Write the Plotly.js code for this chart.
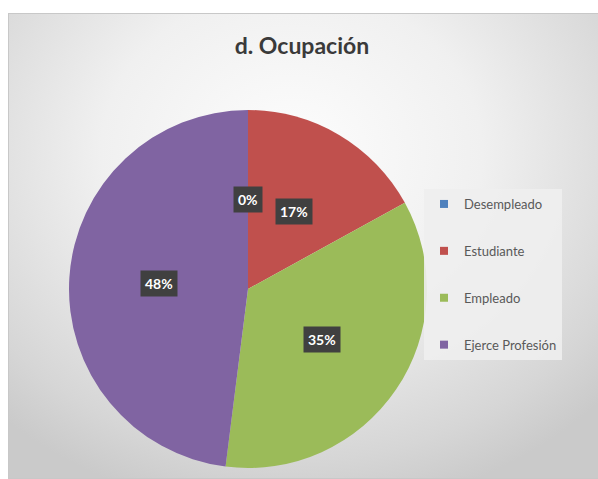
<!DOCTYPE html>
<html>
<head>
<meta charset="utf-8">
<script src="https://cdn.plot.ly/plotly-3.0.1.min.js"></script>
<style>
  html, body { margin: 0; padding: 0; background: #ffffff; }
  #frame {
    position: absolute; left: 8px; top: 13px; width: 589px; height: 464px;
    border: 1px solid #c8c8c8;
    background: radial-gradient(ellipse 72% 78% at 48% 30%, #fdfdfd 0%, #f0f0f0 45%, #d6d6d6 85%, #cacaca 100%);
  }
  #chart { position: absolute; left: 0; top: 0; width: 598px; height: 479px; }
</style>
</head>
<body>
<div id="frame"></div>
<div id="chart"></div>
<script>
const titleText = 'd. Ocupación';
const categories = ['Desempleado', 'Estudiante', 'Empleado', 'Ejerce Profesión'];
const values = [0, 17, 35, 48];
const colors = ['#4f81bd', '#c0504d', '#9bbb59', '#8064a2'];

const W = 598, H = 479;
const domX = [69 / W, 427 / W];
const domY = [1 - 468 / H, 1 - 110 / H];

const total = values.reduce((a, b) => a + b, 0);
const cx = (domX[0] + domX[1]) / 2 * W;
const cy = (1 - (domY[0] + domY[1]) / 2) * H;
const R = Math.min((domX[1] - domX[0]) * W, (domY[1] - domY[0]) * H) / 2;

const annotations = [];
let cum = 0;
values.forEach((v, i) => {
  const mid = (cum + v / 2) / total * 2 * Math.PI;
  cum += v;
  const px = cx + 0.5 * R * Math.sin(mid);
  const py = cy - 0.5 * R * Math.cos(mid);
  annotations.push({
    xref: 'paper', yref: 'paper', x: px / W, y: 1 - py / H,
    xanchor: 'center', yanchor: 'middle', showarrow: false,
    text: Math.round(v / total * 100) + '%',
    font: { family: 'Lato, sans-serif', size: 14, color: '#ffffff', weight: 'bold' },
    bgcolor: '#404040', borderpad: 4
  });
});

const traces = [{
  type: 'pie',
  labels: categories,
  values: values,
  marker: { colors: colors, line: { width: 0 } },
  sort: false,
  direction: 'clockwise',
  rotation: 0,
  textinfo: 'none',
  hoverinfo: 'none',
  showlegend: false,
  domain: { x: domX, y: domY }
}];

categories.forEach((c, i) => {
  traces.push({
    type: 'scatter', x: [null], y: [null], mode: 'markers',
    name: c, legendgroup: 'g' + i,
    marker: { symbol: 'square', size: 8, color: colors[i] },
    hoverinfo: 'skip'
  });
});

const layout = {
  width: W, height: H,
  margin: { l: 0, r: 0, t: 0, b: 0 },
  paper_bgcolor: 'rgba(0,0,0,0)',
  plot_bgcolor: 'rgba(0,0,0,0)',
  title: {
    text: titleText, x: 0.505, xanchor: 'center', y: 1 - 46 / H, yanchor: 'middle', yref: 'container',
    font: { family: 'Lato, sans-serif', size: 23, color: '#3a3a3a', weight: 'bold' }
  },
  xaxis: { visible: false },
  yaxis: { visible: false },
  showlegend: true,
  legend: {
    x: 424 / W, xanchor: 'left', y: 1 - 189 / H, yanchor: 'top',
    bgcolor: 'rgba(238,238,238,0.9)', borderwidth: 0,
    tracegroupgap: 27,
    font: { family: 'Lato, sans-serif', size: 13, color: '#595959' }
  },
  annotations: annotations
};

Plotly.newPlot('chart', traces, layout, { displayModeBar: false, staticPlot: true });
</script>
</body>
</html>
